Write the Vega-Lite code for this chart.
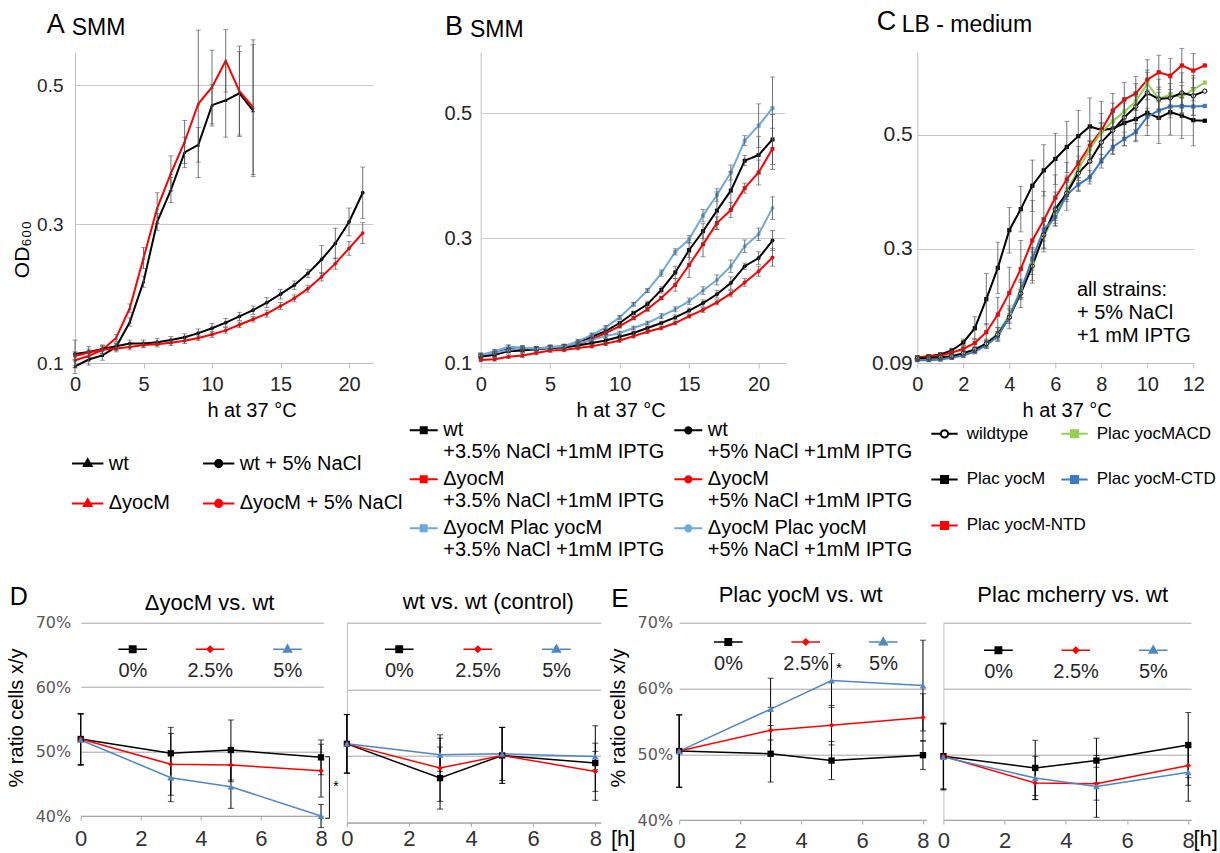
{
"$schema": "https://vega.github.io/schema/vega-lite/v6.json",
"autosize": {"type": "none"},
"padding": {"left": 75, "top": 52, "right": 1145, "bottom": 801},
"background": "#ffffff",
"config": {
  "font": "Liberation Sans",
  "view": {"stroke": null},
  "axis": {"labelFlush": false, "labelOverlap": false, "titleFontWeight": "normal", "labelColor": "#262626", "titleColor": "#000000"},
  "title": {"fontWeight": "normal", "color": "#000000"},
  "legend": {"labelColor": "#000000", "labelLimit": 400}
},
"datasets": {
"A": [
{"s":"wt","h":0,"v":0.095,"e":0.010},{"s":"wt","h":1,"v":0.105,"e":0.008},{"s":"wt","h":2,"v":0.111,"e":0.007},{"s":"wt","h":3,"v":0.123,"e":0.005},{"s":"wt","h":4,"v":0.159,"e":0.006},{"s":"wt","h":5,"v":0.217,"e":0.008},{"s":"wt","h":6,"v":0.303,"e":0.012},{"s":"wt","h":7,"v":0.349,"e":0.018},{"s":"wt","h":8,"v":0.403,"e":0.022},{"s":"wt","h":9,"v":0.414,"e":0.025},{"s":"wt","h":10,"v":0.471,"e":0.030},{"s":"wt","h":11,"v":0.478,"e":0.053},{"s":"wt","h":12,"v":0.488,"e":0.060},{"s":"wt","h":13,"v":0.463,"e":0.095},
{"s":"ΔyocM","h":0,"v":0.104,"e":0.008},{"s":"ΔyocM","h":1,"v":0.110,"e":0.007},{"s":"ΔyocM","h":2,"v":0.119,"e":0.006},{"s":"ΔyocM","h":3,"v":0.136,"e":0.005},{"s":"ΔyocM","h":4,"v":0.179,"e":0.006},{"s":"ΔyocM","h":5,"v":0.251,"e":0.015},{"s":"ΔyocM","h":6,"v":0.323,"e":0.022},{"s":"ΔyocM","h":7,"v":0.373,"e":0.025},{"s":"ΔyocM","h":8,"v":0.418,"e":0.031},{"s":"ΔyocM","h":9,"v":0.473,"e":0.106},{"s":"ΔyocM","h":10,"v":0.497,"e":0.053},{"s":"ΔyocM","h":11,"v":0.535,"e":0.045},{"s":"ΔyocM","h":12,"v":0.491,"e":0.065},{"s":"ΔyocM","h":13,"v":0.468,"e":0.097},
{"s":"wt + 5% NaCl","h":0,"v":0.113,"e":0.020},{"s":"wt + 5% NaCl","h":1,"v":0.116,"e":0.008},{"s":"wt + 5% NaCl","h":2,"v":0.120,"e":0.006},{"s":"wt + 5% NaCl","h":3,"v":0.124,"e":0.005},{"s":"wt + 5% NaCl","h":4,"v":0.128,"e":0.005},{"s":"wt + 5% NaCl","h":5,"v":0.128,"e":0.005},{"s":"wt + 5% NaCl","h":6,"v":0.130,"e":0.005},{"s":"wt + 5% NaCl","h":7,"v":0.133,"e":0.005},{"s":"wt + 5% NaCl","h":8,"v":0.137,"e":0.005},{"s":"wt + 5% NaCl","h":9,"v":0.143,"e":0.006},{"s":"wt + 5% NaCl","h":10,"v":0.150,"e":0.007},{"s":"wt + 5% NaCl","h":11,"v":0.158,"e":0.006},{"s":"wt + 5% NaCl","h":12,"v":0.167,"e":0.006},{"s":"wt + 5% NaCl","h":13,"v":0.176,"e":0.006},{"s":"wt + 5% NaCl","h":14,"v":0.187,"e":0.007},{"s":"wt + 5% NaCl","h":15,"v":0.199,"e":0.007},{"s":"wt + 5% NaCl","h":16,"v":0.212,"e":0.006},{"s":"wt + 5% NaCl","h":17,"v":0.229,"e":0.006},{"s":"wt + 5% NaCl","h":18,"v":0.249,"e":0.020},{"s":"wt + 5% NaCl","h":19,"v":0.272,"e":0.022},{"s":"wt + 5% NaCl","h":20,"v":0.303,"e":0.020},{"s":"wt + 5% NaCl","h":21,"v":0.345,"e":0.037},
{"s":"ΔyocM + 5% NaCl","h":0,"v":0.110,"e":0.006},{"s":"ΔyocM + 5% NaCl","h":1,"v":0.115,"e":0.005},{"s":"ΔyocM + 5% NaCl","h":2,"v":0.119,"e":0.005},{"s":"ΔyocM + 5% NaCl","h":3,"v":0.121,"e":0.005},{"s":"ΔyocM + 5% NaCl","h":4,"v":0.123,"e":0.004},{"s":"ΔyocM + 5% NaCl","h":5,"v":0.126,"e":0.004},{"s":"ΔyocM + 5% NaCl","h":6,"v":0.127,"e":0.004},{"s":"ΔyocM + 5% NaCl","h":7,"v":0.129,"e":0.004},{"s":"ΔyocM + 5% NaCl","h":8,"v":0.132,"e":0.004},{"s":"ΔyocM + 5% NaCl","h":9,"v":0.136,"e":0.004},{"s":"ΔyocM + 5% NaCl","h":10,"v":0.141,"e":0.004},{"s":"ΔyocM + 5% NaCl","h":11,"v":0.147,"e":0.004},{"s":"ΔyocM + 5% NaCl","h":12,"v":0.155,"e":0.004},{"s":"ΔyocM + 5% NaCl","h":13,"v":0.163,"e":0.004},{"s":"ΔyocM + 5% NaCl","h":14,"v":0.171,"e":0.005},{"s":"ΔyocM + 5% NaCl","h":15,"v":0.182,"e":0.005},{"s":"ΔyocM + 5% NaCl","h":16,"v":0.193,"e":0.005},{"s":"ΔyocM + 5% NaCl","h":17,"v":0.207,"e":0.005},{"s":"ΔyocM + 5% NaCl","h":18,"v":0.224,"e":0.006},{"s":"ΔyocM + 5% NaCl","h":19,"v":0.243,"e":0.008},{"s":"ΔyocM + 5% NaCl","h":20,"v":0.265,"e":0.010},{"s":"ΔyocM + 5% NaCl","h":21,"v":0.287,"e":0.015}
],
"B": [
{"s":"wt|+3.5% NaCl +1mM IPTG","h":0,"v":0.111,"e":0.003},{"s":"wt|+3.5% NaCl +1mM IPTG","h":1,"v":0.116,"e":0.003},{"s":"wt|+3.5% NaCl +1mM IPTG","h":2,"v":0.122,"e":0.003},{"s":"wt|+3.5% NaCl +1mM IPTG","h":3,"v":0.123,"e":0.003},{"s":"wt|+3.5% NaCl +1mM IPTG","h":4,"v":0.123,"e":0.003},{"s":"wt|+3.5% NaCl +1mM IPTG","h":5,"v":0.125,"e":0.003},{"s":"wt|+3.5% NaCl +1mM IPTG","h":6,"v":0.127,"e":0.003},{"s":"wt|+3.5% NaCl +1mM IPTG","h":7,"v":0.132,"e":0.003},{"s":"wt|+3.5% NaCl +1mM IPTG","h":8,"v":0.142,"e":0.003},{"s":"wt|+3.5% NaCl +1mM IPTG","h":9,"v":0.151,"e":0.003},{"s":"wt|+3.5% NaCl +1mM IPTG","h":10,"v":0.164,"e":0.003},{"s":"wt|+3.5% NaCl +1mM IPTG","h":11,"v":0.180,"e":0.003},{"s":"wt|+3.5% NaCl +1mM IPTG","h":12,"v":0.194,"e":0.005},{"s":"wt|+3.5% NaCl +1mM IPTG","h":13,"v":0.217,"e":0.005},{"s":"wt|+3.5% NaCl +1mM IPTG","h":14,"v":0.245,"e":0.010},{"s":"wt|+3.5% NaCl +1mM IPTG","h":15,"v":0.281,"e":0.012},{"s":"wt|+3.5% NaCl +1mM IPTG","h":16,"v":0.311,"e":0.012},{"s":"wt|+3.5% NaCl +1mM IPTG","h":17,"v":0.344,"e":0.030},{"s":"wt|+3.5% NaCl +1mM IPTG","h":18,"v":0.376,"e":0.030},{"s":"wt|+3.5% NaCl +1mM IPTG","h":19,"v":0.424,"e":0.008},{"s":"wt|+3.5% NaCl +1mM IPTG","h":20,"v":0.433,"e":0.030},{"s":"wt|+3.5% NaCl +1mM IPTG","h":21,"v":0.458,"e":0.040},
{"s":"ΔyocM|+3.5% NaCl +1mM IPTG","h":0,"v":0.110,"e":0.003},{"s":"ΔyocM|+3.5% NaCl +1mM IPTG","h":1,"v":0.113,"e":0.003},{"s":"ΔyocM|+3.5% NaCl +1mM IPTG","h":2,"v":0.120,"e":0.003},{"s":"ΔyocM|+3.5% NaCl +1mM IPTG","h":3,"v":0.121,"e":0.003},{"s":"ΔyocM|+3.5% NaCl +1mM IPTG","h":4,"v":0.123,"e":0.003},{"s":"ΔyocM|+3.5% NaCl +1mM IPTG","h":5,"v":0.124,"e":0.003},{"s":"ΔyocM|+3.5% NaCl +1mM IPTG","h":6,"v":0.126,"e":0.003},{"s":"ΔyocM|+3.5% NaCl +1mM IPTG","h":7,"v":0.130,"e":0.003},{"s":"ΔyocM|+3.5% NaCl +1mM IPTG","h":8,"v":0.138,"e":0.003},{"s":"ΔyocM|+3.5% NaCl +1mM IPTG","h":9,"v":0.148,"e":0.003},{"s":"ΔyocM|+3.5% NaCl +1mM IPTG","h":10,"v":0.159,"e":0.003},{"s":"ΔyocM|+3.5% NaCl +1mM IPTG","h":11,"v":0.172,"e":0.003},{"s":"ΔyocM|+3.5% NaCl +1mM IPTG","h":12,"v":0.186,"e":0.003},{"s":"ΔyocM|+3.5% NaCl +1mM IPTG","h":13,"v":0.204,"e":0.003},{"s":"ΔyocM|+3.5% NaCl +1mM IPTG","h":14,"v":0.225,"e":0.010},{"s":"ΔyocM|+3.5% NaCl +1mM IPTG","h":15,"v":0.257,"e":0.020},{"s":"ΔyocM|+3.5% NaCl +1mM IPTG","h":16,"v":0.290,"e":0.020},{"s":"ΔyocM|+3.5% NaCl +1mM IPTG","h":17,"v":0.324,"e":0.010},{"s":"ΔyocM|+3.5% NaCl +1mM IPTG","h":18,"v":0.345,"e":0.012},{"s":"ΔyocM|+3.5% NaCl +1mM IPTG","h":19,"v":0.380,"e":0.008},{"s":"ΔyocM|+3.5% NaCl +1mM IPTG","h":20,"v":0.405,"e":0.020},{"s":"ΔyocM|+3.5% NaCl +1mM IPTG","h":21,"v":0.443,"e":0.033},
{"s":"ΔyocM Plac yocM|+3.5% NaCl +1mM IPTG","h":0,"v":0.113,"e":0.003},{"s":"ΔyocM Plac yocM|+3.5% NaCl +1mM IPTG","h":1,"v":0.119,"e":0.003},{"s":"ΔyocM Plac yocM|+3.5% NaCl +1mM IPTG","h":2,"v":0.126,"e":0.003},{"s":"ΔyocM Plac yocM|+3.5% NaCl +1mM IPTG","h":3,"v":0.125,"e":0.003},{"s":"ΔyocM Plac yocM|+3.5% NaCl +1mM IPTG","h":4,"v":0.123,"e":0.003},{"s":"ΔyocM Plac yocM|+3.5% NaCl +1mM IPTG","h":5,"v":0.126,"e":0.003},{"s":"ΔyocM Plac yocM|+3.5% NaCl +1mM IPTG","h":6,"v":0.127,"e":0.003},{"s":"ΔyocM Plac yocM|+3.5% NaCl +1mM IPTG","h":7,"v":0.135,"e":0.003},{"s":"ΔyocM Plac yocM|+3.5% NaCl +1mM IPTG","h":8,"v":0.145,"e":0.003},{"s":"ΔyocM Plac yocM|+3.5% NaCl +1mM IPTG","h":9,"v":0.157,"e":0.003},{"s":"ΔyocM Plac yocM|+3.5% NaCl +1mM IPTG","h":10,"v":0.173,"e":0.003},{"s":"ΔyocM Plac yocM|+3.5% NaCl +1mM IPTG","h":11,"v":0.194,"e":0.003},{"s":"ΔyocM Plac yocM|+3.5% NaCl +1mM IPTG","h":12,"v":0.216,"e":0.003},{"s":"ΔyocM Plac yocM|+3.5% NaCl +1mM IPTG","h":13,"v":0.244,"e":0.005},{"s":"ΔyocM Plac yocM|+3.5% NaCl +1mM IPTG","h":14,"v":0.278,"e":0.005},{"s":"ΔyocM Plac yocM|+3.5% NaCl +1mM IPTG","h":15,"v":0.298,"e":0.006},{"s":"ΔyocM Plac yocM|+3.5% NaCl +1mM IPTG","h":16,"v":0.336,"e":0.010},{"s":"ΔyocM Plac yocM|+3.5% NaCl +1mM IPTG","h":17,"v":0.369,"e":0.010},{"s":"ΔyocM Plac yocM|+3.5% NaCl +1mM IPTG","h":18,"v":0.405,"e":0.012},{"s":"ΔyocM Plac yocM|+3.5% NaCl +1mM IPTG","h":19,"v":0.456,"e":0.008},{"s":"ΔyocM Plac yocM|+3.5% NaCl +1mM IPTG","h":20,"v":0.480,"e":0.035},{"s":"ΔyocM Plac yocM|+3.5% NaCl +1mM IPTG","h":21,"v":0.508,"e":0.050},
{"s":"wt|+5% NaCl +1mM IPTG","h":0,"v":0.111,"e":0.003},{"s":"wt|+5% NaCl +1mM IPTG","h":1,"v":0.113,"e":0.003},{"s":"wt|+5% NaCl +1mM IPTG","h":2,"v":0.119,"e":0.003},{"s":"wt|+5% NaCl +1mM IPTG","h":3,"v":0.120,"e":0.003},{"s":"wt|+5% NaCl +1mM IPTG","h":4,"v":0.122,"e":0.003},{"s":"wt|+5% NaCl +1mM IPTG","h":5,"v":0.124,"e":0.003},{"s":"wt|+5% NaCl +1mM IPTG","h":6,"v":0.125,"e":0.003},{"s":"wt|+5% NaCl +1mM IPTG","h":7,"v":0.128,"e":0.003},{"s":"wt|+5% NaCl +1mM IPTG","h":8,"v":0.132,"e":0.003},{"s":"wt|+5% NaCl +1mM IPTG","h":9,"v":0.136,"e":0.003},{"s":"wt|+5% NaCl +1mM IPTG","h":10,"v":0.142,"e":0.003},{"s":"wt|+5% NaCl +1mM IPTG","h":11,"v":0.148,"e":0.003},{"s":"wt|+5% NaCl +1mM IPTG","h":12,"v":0.156,"e":0.003},{"s":"wt|+5% NaCl +1mM IPTG","h":13,"v":0.164,"e":0.003},{"s":"wt|+5% NaCl +1mM IPTG","h":14,"v":0.173,"e":0.004},{"s":"wt|+5% NaCl +1mM IPTG","h":15,"v":0.184,"e":0.004},{"s":"wt|+5% NaCl +1mM IPTG","h":16,"v":0.196,"e":0.005},{"s":"wt|+5% NaCl +1mM IPTG","h":17,"v":0.210,"e":0.006},{"s":"wt|+5% NaCl +1mM IPTG","h":18,"v":0.228,"e":0.010},{"s":"wt|+5% NaCl +1mM IPTG","h":19,"v":0.255,"e":0.005},{"s":"wt|+5% NaCl +1mM IPTG","h":20,"v":0.268,"e":0.010},{"s":"wt|+5% NaCl +1mM IPTG","h":21,"v":0.296,"e":0.016},
{"s":"ΔyocM|+5% NaCl +1mM IPTG","h":0,"v":0.105,"e":0.003},{"s":"ΔyocM|+5% NaCl +1mM IPTG","h":1,"v":0.106,"e":0.003},{"s":"ΔyocM|+5% NaCl +1mM IPTG","h":2,"v":0.110,"e":0.003},{"s":"ΔyocM|+5% NaCl +1mM IPTG","h":3,"v":0.112,"e":0.003},{"s":"ΔyocM|+5% NaCl +1mM IPTG","h":4,"v":0.116,"e":0.003},{"s":"ΔyocM|+5% NaCl +1mM IPTG","h":5,"v":0.120,"e":0.003},{"s":"ΔyocM|+5% NaCl +1mM IPTG","h":6,"v":0.121,"e":0.003},{"s":"ΔyocM|+5% NaCl +1mM IPTG","h":7,"v":0.124,"e":0.003},{"s":"ΔyocM|+5% NaCl +1mM IPTG","h":8,"v":0.127,"e":0.003},{"s":"ΔyocM|+5% NaCl +1mM IPTG","h":9,"v":0.131,"e":0.003},{"s":"ΔyocM|+5% NaCl +1mM IPTG","h":10,"v":0.136,"e":0.003},{"s":"ΔyocM|+5% NaCl +1mM IPTG","h":11,"v":0.143,"e":0.003},{"s":"ΔyocM|+5% NaCl +1mM IPTG","h":12,"v":0.150,"e":0.003},{"s":"ΔyocM|+5% NaCl +1mM IPTG","h":13,"v":0.156,"e":0.003},{"s":"ΔyocM|+5% NaCl +1mM IPTG","h":14,"v":0.164,"e":0.003},{"s":"ΔyocM|+5% NaCl +1mM IPTG","h":15,"v":0.175,"e":0.003},{"s":"ΔyocM|+5% NaCl +1mM IPTG","h":16,"v":0.185,"e":0.004},{"s":"ΔyocM|+5% NaCl +1mM IPTG","h":17,"v":0.197,"e":0.004},{"s":"ΔyocM|+5% NaCl +1mM IPTG","h":18,"v":0.211,"e":0.005},{"s":"ΔyocM|+5% NaCl +1mM IPTG","h":19,"v":0.229,"e":0.006},{"s":"ΔyocM|+5% NaCl +1mM IPTG","h":20,"v":0.247,"e":0.008},{"s":"ΔyocM|+5% NaCl +1mM IPTG","h":21,"v":0.269,"e":0.014},
{"s":"ΔyocM Plac yocM|+5% NaCl +1mM IPTG","h":0,"v":0.113,"e":0.003},{"s":"ΔyocM Plac yocM|+5% NaCl +1mM IPTG","h":1,"v":0.116,"e":0.003},{"s":"ΔyocM Plac yocM|+5% NaCl +1mM IPTG","h":2,"v":0.121,"e":0.003},{"s":"ΔyocM Plac yocM|+5% NaCl +1mM IPTG","h":3,"v":0.124,"e":0.003},{"s":"ΔyocM Plac yocM|+5% NaCl +1mM IPTG","h":4,"v":0.123,"e":0.003},{"s":"ΔyocM Plac yocM|+5% NaCl +1mM IPTG","h":5,"v":0.125,"e":0.003},{"s":"ΔyocM Plac yocM|+5% NaCl +1mM IPTG","h":6,"v":0.127,"e":0.003},{"s":"ΔyocM Plac yocM|+5% NaCl +1mM IPTG","h":7,"v":0.132,"e":0.003},{"s":"ΔyocM Plac yocM|+5% NaCl +1mM IPTG","h":8,"v":0.137,"e":0.003},{"s":"ΔyocM Plac yocM|+5% NaCl +1mM IPTG","h":9,"v":0.143,"e":0.003},{"s":"ΔyocM Plac yocM|+5% NaCl +1mM IPTG","h":10,"v":0.148,"e":0.003},{"s":"ΔyocM Plac yocM|+5% NaCl +1mM IPTG","h":11,"v":0.156,"e":0.003},{"s":"ΔyocM Plac yocM|+5% NaCl +1mM IPTG","h":12,"v":0.164,"e":0.003},{"s":"ΔyocM Plac yocM|+5% NaCl +1mM IPTG","h":13,"v":0.175,"e":0.004},{"s":"ΔyocM Plac yocM|+5% NaCl +1mM IPTG","h":14,"v":0.186,"e":0.004},{"s":"ΔyocM Plac yocM|+5% NaCl +1mM IPTG","h":15,"v":0.199,"e":0.005},{"s":"ΔyocM Plac yocM|+5% NaCl +1mM IPTG","h":16,"v":0.216,"e":0.006},{"s":"ΔyocM Plac yocM|+5% NaCl +1mM IPTG","h":17,"v":0.233,"e":0.008},{"s":"ΔyocM Plac yocM|+5% NaCl +1mM IPTG","h":18,"v":0.255,"e":0.010},{"s":"ΔyocM Plac yocM|+5% NaCl +1mM IPTG","h":19,"v":0.287,"e":0.010},{"s":"ΔyocM Plac yocM|+5% NaCl +1mM IPTG","h":20,"v":0.306,"e":0.010},{"s":"ΔyocM Plac yocM|+5% NaCl +1mM IPTG","h":21,"v":0.348,"e":0.018}
],
"C": [
{"s":"Plac yocM","h":0,"v":0.109,"e":0.003},{"s":"Plac yocM","h":0.5,"v":0.112,"e":0.003},{"s":"Plac yocM","h":1,"v":0.115,"e":0.003},{"s":"Plac yocM","h":1.5,"v":0.122,"e":0.004},{"s":"Plac yocM","h":2,"v":0.136,"e":0.006},{"s":"Plac yocM","h":2.5,"v":0.161,"e":0.02},{"s":"Plac yocM","h":3,"v":0.212,"e":0.045},{"s":"Plac yocM","h":3.5,"v":0.267,"e":0.045},{"s":"Plac yocM","h":4,"v":0.333,"e":0.04},{"s":"Plac yocM","h":4.5,"v":0.370,"e":0.04},{"s":"Plac yocM","h":5,"v":0.411,"e":0.045},{"s":"Plac yocM","h":5.5,"v":0.438,"e":0.045},{"s":"Plac yocM","h":6,"v":0.458,"e":0.045},{"s":"Plac yocM","h":6.5,"v":0.479,"e":0.045},{"s":"Plac yocM","h":7,"v":0.498,"e":0.045},{"s":"Plac yocM","h":7.5,"v":0.515,"e":0.05},{"s":"Plac yocM","h":8,"v":0.509,"e":0.05},{"s":"Plac yocM","h":8.5,"v":0.511,"e":0.045},{"s":"Plac yocM","h":9,"v":0.521,"e":0.04},{"s":"Plac yocM","h":9.5,"v":0.528,"e":0.04},{"s":"Plac yocM","h":10,"v":0.539,"e":0.04},{"s":"Plac yocM","h":10.5,"v":0.530,"e":0.045},{"s":"Plac yocM","h":11,"v":0.540,"e":0.04},{"s":"Plac yocM","h":11.5,"v":0.534,"e":0.04},{"s":"Plac yocM","h":12,"v":0.526,"e":0.045},{"s":"Plac yocM","h":12.5,"v":0.525,"e":0},
{"s":"Plac yocM-NTD","h":0,"v":0.110,"e":0.003},{"s":"Plac yocM-NTD","h":0.5,"v":0.112,"e":0.003},{"s":"Plac yocM-NTD","h":1,"v":0.113,"e":0.003},{"s":"Plac yocM-NTD","h":1.5,"v":0.118,"e":0.003},{"s":"Plac yocM-NTD","h":2,"v":0.125,"e":0.005},{"s":"Plac yocM-NTD","h":2.5,"v":0.135,"e":0.008},{"s":"Plac yocM-NTD","h":3,"v":0.154,"e":0.015},{"s":"Plac yocM-NTD","h":3.5,"v":0.185,"e":0.03},{"s":"Plac yocM-NTD","h":4,"v":0.223,"e":0.045},{"s":"Plac yocM-NTD","h":4.5,"v":0.265,"e":0.05},{"s":"Plac yocM-NTD","h":5,"v":0.315,"e":0.07},{"s":"Plac yocM-NTD","h":5.5,"v":0.351,"e":0.05},{"s":"Plac yocM-NTD","h":6,"v":0.390,"e":0.04},{"s":"Plac yocM-NTD","h":6.5,"v":0.422,"e":0.03},{"s":"Plac yocM-NTD","h":7,"v":0.450,"e":0.03},{"s":"Plac yocM-NTD","h":7.5,"v":0.481,"e":0.03},{"s":"Plac yocM-NTD","h":8,"v":0.508,"e":0.03},{"s":"Plac yocM-NTD","h":8.5,"v":0.543,"e":0.03},{"s":"Plac yocM-NTD","h":9,"v":0.562,"e":0.03},{"s":"Plac yocM-NTD","h":9.5,"v":0.573,"e":0.03},{"s":"Plac yocM-NTD","h":10,"v":0.597,"e":0.035},{"s":"Plac yocM-NTD","h":10.5,"v":0.610,"e":0.03},{"s":"Plac yocM-NTD","h":11,"v":0.604,"e":0.03},{"s":"Plac yocM-NTD","h":11.5,"v":0.622,"e":0.03},{"s":"Plac yocM-NTD","h":12,"v":0.613,"e":0.03},{"s":"Plac yocM-NTD","h":12.5,"v":0.622,"e":0},
{"s":"Plac yocMACD","h":0,"v":0.106,"e":0.002},{"s":"Plac yocMACD","h":0.5,"v":0.107,"e":0.002},{"s":"Plac yocMACD","h":1,"v":0.108,"e":0.002},{"s":"Plac yocMACD","h":1.5,"v":0.111,"e":0.003},{"s":"Plac yocMACD","h":2,"v":0.116,"e":0.003},{"s":"Plac yocMACD","h":2.5,"v":0.123,"e":0.004},{"s":"Plac yocMACD","h":3,"v":0.134,"e":0.006},{"s":"Plac yocMACD","h":3.5,"v":0.152,"e":0.01},{"s":"Plac yocMACD","h":4,"v":0.184,"e":0.012},{"s":"Plac yocMACD","h":4.5,"v":0.229,"e":0.015},{"s":"Plac yocMACD","h":5,"v":0.275,"e":0.02},{"s":"Plac yocMACD","h":5.5,"v":0.322,"e":0.02},{"s":"Plac yocMACD","h":6,"v":0.360,"e":0.015},{"s":"Plac yocMACD","h":6.5,"v":0.402,"e":0.015},{"s":"Plac yocMACD","h":7,"v":0.440,"e":0.015},{"s":"Plac yocMACD","h":7.5,"v":0.475,"e":0.015},{"s":"Plac yocMACD","h":8,"v":0.505,"e":0.015},{"s":"Plac yocMACD","h":8.5,"v":0.524,"e":0.015},{"s":"Plac yocMACD","h":9,"v":0.541,"e":0.015},{"s":"Plac yocMACD","h":9.5,"v":0.559,"e":0.015},{"s":"Plac yocMACD","h":10,"v":0.590,"e":0.02},{"s":"Plac yocMACD","h":10.5,"v":0.564,"e":0.02},{"s":"Plac yocMACD","h":11,"v":0.570,"e":0.02},{"s":"Plac yocMACD","h":11.5,"v":0.567,"e":0.02},{"s":"Plac yocMACD","h":12,"v":0.580,"e":0.02},{"s":"Plac yocMACD","h":12.5,"v":0.592,"e":0},
{"s":"wildtype","h":0,"v":0.108,"e":0.003},{"s":"wildtype","h":0.5,"v":0.109,"e":0.003},{"s":"wildtype","h":1,"v":0.110,"e":0.003},{"s":"wildtype","h":1.5,"v":0.112,"e":0.003},{"s":"wildtype","h":2,"v":0.117,"e":0.004},{"s":"wildtype","h":2.5,"v":0.124,"e":0.005},{"s":"wildtype","h":3,"v":0.134,"e":0.008},{"s":"wildtype","h":3.5,"v":0.150,"e":0.012},{"s":"wildtype","h":4,"v":0.180,"e":0.02},{"s":"wildtype","h":4.5,"v":0.222,"e":0.025},{"s":"wildtype","h":5,"v":0.270,"e":0.03},{"s":"wildtype","h":5.5,"v":0.325,"e":0.03},{"s":"wildtype","h":6,"v":0.370,"e":0.03},{"s":"wildtype","h":6.5,"v":0.398,"e":0.03},{"s":"wildtype","h":7,"v":0.433,"e":0.03},{"s":"wildtype","h":7.5,"v":0.454,"e":0.035},{"s":"wildtype","h":8,"v":0.487,"e":0.035},{"s":"wildtype","h":8.5,"v":0.508,"e":0.035},{"s":"wildtype","h":9,"v":0.531,"e":0.035},{"s":"wildtype","h":9.5,"v":0.550,"e":0.04},{"s":"wildtype","h":10,"v":0.574,"e":0.04},{"s":"wildtype","h":10.5,"v":0.563,"e":0.035},{"s":"wildtype","h":11,"v":0.565,"e":0.035},{"s":"wildtype","h":11.5,"v":0.574,"e":0.035},{"s":"wildtype","h":12,"v":0.569,"e":0.035},{"s":"wildtype","h":12.5,"v":0.577,"e":0},
{"s":"Plac yocM-CTD","h":0,"v":0.105,"e":0.002},{"s":"Plac yocM-CTD","h":0.5,"v":0.105,"e":0.002},{"s":"Plac yocM-CTD","h":1,"v":0.106,"e":0.002},{"s":"Plac yocM-CTD","h":1.5,"v":0.109,"e":0.003},{"s":"Plac yocM-CTD","h":2,"v":0.113,"e":0.003},{"s":"Plac yocM-CTD","h":2.5,"v":0.120,"e":0.004},{"s":"Plac yocM-CTD","h":3,"v":0.131,"e":0.006},{"s":"Plac yocM-CTD","h":3.5,"v":0.147,"e":0.008},{"s":"Plac yocM-CTD","h":4,"v":0.181,"e":0.012},{"s":"Plac yocM-CTD","h":4.5,"v":0.226,"e":0.015},{"s":"Plac yocM-CTD","h":5,"v":0.283,"e":0.02},{"s":"Plac yocM-CTD","h":5.5,"v":0.334,"e":0.02},{"s":"Plac yocM-CTD","h":6,"v":0.356,"e":0.015},{"s":"Plac yocM-CTD","h":6.5,"v":0.395,"e":0.012},{"s":"Plac yocM-CTD","h":7,"v":0.413,"e":0.012},{"s":"Plac yocM-CTD","h":7.5,"v":0.426,"e":0.012},{"s":"Plac yocM-CTD","h":8,"v":0.454,"e":0.012},{"s":"Plac yocM-CTD","h":8.5,"v":0.479,"e":0.012},{"s":"Plac yocM-CTD","h":9,"v":0.493,"e":0.012},{"s":"Plac yocM-CTD","h":9.5,"v":0.505,"e":0.015},{"s":"Plac yocM-CTD","h":10,"v":0.532,"e":0.015},{"s":"Plac yocM-CTD","h":10.5,"v":0.543,"e":0.015},{"s":"Plac yocM-CTD","h":11,"v":0.550,"e":0.015},{"s":"Plac yocM-CTD","h":11.5,"v":0.551,"e":0.015},{"s":"Plac yocM-CTD","h":12,"v":0.550,"e":0.015},{"s":"Plac yocM-CTD","h":12.5,"v":0.551,"e":0}
],
"D1": [
{"s":"0%","h":0,"v":51.95,"e":3.96},{"s":"0%","h":3,"v":49.73,"e":4.03},{"s":"0%","h":5,"v":50.24,"e":4.66},{"s":"0%","h":8,"v":49.1,"e":2.7},
{"s":"2.5%","h":0,"v":51.95,"e":3.96},{"s":"2.5%","h":3,"v":48.02,"e":4.8},{"s":"2.5%","h":5,"v":47.92,"e":2.6},{"s":"2.5%","h":8,"v":47.04,"e":4.1},
{"s":"5%","h":0,"v":51.8,"e":3.96},{"s":"5%","h":3,"v":45.95,"e":3.73},{"s":"5%","h":5,"v":44.55,"e":3.36},{"s":"5%","h":8,"v":40.0,"e":1.8}
],
"D2": [
{"s":"0%","h":0,"v":51.8,"e":4.4},{"s":"0%","h":3,"v":46.66,"e":4.66},{"s":"0%","h":5,"v":50.06,"e":4.2},{"s":"0%","h":8,"v":48.92,"e":5.6},
{"s":"2.5%","h":0,"v":51.8,"e":4.4},{"s":"2.5%","h":3,"v":48.16,"e":5.0},{"s":"2.5%","h":5,"v":50.06,"e":4.2},{"s":"2.5%","h":8,"v":47.66,"e":3.0},
{"s":"5%","h":0,"v":51.8,"e":4.4},{"s":"5%","h":3,"v":50.16,"e":2.5},{"s":"5%","h":5,"v":50.3,"e":4.0},{"s":"5%","h":8,"v":49.9,"e":2.0}
],
"E1": [
{"s":"0%","h":0,"v":50.48,"e":5.5},{"s":"0%","h":3,"v":50.07,"e":4.3},{"s":"0%","h":5,"v":49.04,"e":2.9},{"s":"0%","h":8,"v":49.86,"e":2.2},
{"s":"2.5%","h":0,"v":50.48,"e":5.5},{"s":"2.5%","h":3,"v":53.64,"e":3.5},{"s":"2.5%","h":5,"v":54.41,"e":3.0},{"s":"2.5%","h":8,"v":55.59,"e":3.6},
{"s":"5%","h":0,"v":50.48,"e":5.5},{"s":"5%","h":3,"v":56.86,"e":4.7},{"s":"5%","h":5,"v":61.2,"e":4.1},{"s":"5%","h":8,"v":60.44,"e":6.9}
],
"E2": [
{"s":"0%","h":0,"v":49.71,"e":5.0},{"s":"0%","h":3,"v":47.92,"e":4.2},{"s":"0%","h":5,"v":49.04,"e":3.4},{"s":"0%","h":8,"v":51.4,"e":4.95},
{"s":"2.5%","h":0,"v":49.71,"e":5.0},{"s":"2.5%","h":3,"v":45.62,"e":2.5},{"s":"2.5%","h":5,"v":45.52,"e":2.5},{"s":"2.5%","h":8,"v":48.28,"e":3.0},
{"s":"5%","h":0,"v":49.56,"e":5.0},{"s":"5%","h":3,"v":46.39,"e":3.3},{"s":"5%","h":5,"v":45.11,"e":4.7},{"s":"5%","h":8,"v":47.26,"e":4.4}
]
},
"spacing": 570.7,
"bounds": "flush",
"resolve": {"scale": {"color": "independent", "shape": "independent", "fill": "independent", "stroke": "independent"}},
"vconcat": [
{
 "spacing": 842.3,
 "bounds": "flush",
 "resolve": {"scale": {"color": "independent", "shape": "independent", "fill": "independent", "stroke": "independent"}},
 "hconcat": [
  {
   "spacing": 405.7,
   "bounds": "flush",
   "resolve": {"scale": {"color": "independent", "shape": "independent", "fill": "independent", "stroke": "independent"}},
   "hconcat": [
    {
     "bounds": "flush",
     "title": {"text": "A", "fontSize": 27, "anchor": "start", "frame": "group", "dx": -28.3, "offset": -22},
     "resolve": {"scale": {"color": "independent", "shape": "independent", "fill": "independent", "stroke": "independent"}},
     "hconcat": [
      {
       "width": 298, "height": 311,
       "data": {"name": "A"},
       "title": {"text": "SMM", "fontSize": 23, "anchor": "start", "frame": "group", "dx": -3.3, "offset": -11},
       "resolve": {"scale": {"shape": "independent", "fill": "independent", "stroke": "independent"}},
       "encoding": {
        "x": {"field": "h", "type": "quantitative", "scale": {"domain": [0, 21.75], "nice": false, "zero": false},
              "axis": {"values": [0,5,10,15,20], "title": "h at 37 °C", "titleX": 176.5, "titleY": 37, "titleAlign": "center", "titleBaseline": "top", "titleFontSize": 20, "labelFontSize": 20, "labelPadding": 6, "grid": false, "ticks": true, "tickSize": 5, "tickColor": "#bfbfbf", "domainColor": "#bfbfbf"}},
        "y": {"field": "v", "type": "quantitative", "scale": {"domain": [0.1, 0.5475], "nice": false, "zero": false},
              "axis": {"values": [0.1,0.3,0.5], "format": ".1f", "title": "OD₆₀₀", "titleX": -53, "titleY": 197, "titleAngle": -90, "titleAlign": "center", "titleBaseline": "middle", "titleFontSize": 21, "labelFontSize": 19, "labelPadding": 12, "grid": true, "gridColor": "#c8c8c8", "ticks": false, "domainColor": "#bfbfbf"}}
       },
       "layer": [
        {"mark": {"type": "line", "strokeWidth": 2}, "encoding": {"color": {"field": "s", "type": "nominal", "scale": {"domain": ["wt","wt + 5% NaCl","ΔyocM","ΔyocM + 5% NaCl"], "range": ["#000000","#000000","#ff0000","#ff0000"]}, "legend": null}}},
        {"transform": [{"filter": {"field": "s", "oneOf": ["wt","ΔyocM"]}}], "mark": {"type": "point", "shape": "triangle-up", "filled": true, "size": 14, "opacity": 1}, "encoding": {"color": {"field": "s", "type": "nominal", "scale": {"domain": ["wt","wt + 5% NaCl","ΔyocM","ΔyocM + 5% NaCl"], "range": ["#000000","#000000","#ff0000","#ff0000"]}, "legend": null}}},
        {"transform": [{"filter": {"field": "s", "oneOf": ["wt + 5% NaCl","ΔyocM + 5% NaCl"]}}], "mark": {"type": "point", "shape": "circle", "filled": true, "size": 14, "opacity": 1}, "encoding": {"color": {"field": "s", "type": "nominal", "scale": {"domain": ["wt","wt + 5% NaCl","ΔyocM","ΔyocM + 5% NaCl"], "range": ["#000000","#000000","#ff0000","#ff0000"]}, "legend": null}}},
        {"transform": [{"filter": "datum.e > 0"}], "mark": {"type": "errorbar", "color": "#4d4d4d", "thickness": 0.8, "ticks": {"size": 5}}, "encoding": {"yError": {"field": "e"}}},
        {"transform": [{"filter": "false"}], "mark": {"type": "point", "filled": true},
         "encoding": {
          "shape": {"field": "s", "type": "nominal", "scale": {"domain": ["wt","ΔyocM","wt + 5% NaCl","ΔyocM + 5% NaCl"], "range": ["M-1,-1M1,1M-1,0H-0.2M0.2,0H1M0,-0.27L0.245,0.16L-0.245,0.16Z","M-1,-1M1,1M-1,0H-0.2M0.2,0H1M0,-0.27L0.245,0.16L-0.245,0.16Z","M-1,-1M1,1M-1,0H-0.23M0.23,0H1M-0.23,0A0.23,0.23 0 1,0 0.23,0A0.23,0.23 0 1,0 -0.23,0Z","M-1,-1M1,1M-1,0H-0.23M0.23,0H1M-0.23,0A0.23,0.23 0 1,0 0.23,0A0.23,0.23 0 1,0 -0.23,0Z"]},
                    "legend": {"orient": "none", "legendX": -4.3, "legendY": 394.4, "title": null, "columns": 2, "symbolSize": 980, "symbolStrokeWidth": 2, "symbolOpacity": 1, "labelFontSize": 20, "labelOffset": 4, "labelBaseline": "middle", "rowPadding": 0, "columnPadding": 28, "padding": 0, "gridAlign": "each"}},
          "fill": {"field": "s", "type": "nominal", "scale": {"domain": ["wt","ΔyocM","wt + 5% NaCl","ΔyocM + 5% NaCl"], "range": ["#000000","#ff0000","#000000","#ff0000"]},
                    "legend": {"orient": "none", "legendX": -4.3, "legendY": 394.4, "title": null, "columns": 2, "symbolSize": 980, "symbolStrokeWidth": 2, "symbolOpacity": 1, "labelFontSize": 20, "labelOffset": 4, "labelBaseline": "middle", "rowPadding": 0, "columnPadding": 28, "padding": 0, "gridAlign": "each"}},
          "stroke": {"field": "s", "type": "nominal", "scale": {"domain": ["wt","ΔyocM","wt + 5% NaCl","ΔyocM + 5% NaCl"], "range": ["#000000","#ff0000","#000000","#ff0000"]},
                    "legend": {"orient": "none", "legendX": -4.3, "legendY": 394.4, "title": null, "columns": 2, "symbolSize": 980, "symbolStrokeWidth": 2, "symbolOpacity": 1, "labelFontSize": 20, "labelOffset": 4, "labelBaseline": "middle", "rowPadding": 0, "columnPadding": 28, "padding": 0, "gridAlign": "each"}}
         }}
       ]
      }
     ]
    },
    {
     "bounds": "flush",
     "title": {"text": "B", "fontSize": 27, "anchor": "start", "frame": "group", "dx": -35.7, "offset": -22},
     "resolve": {"scale": {"color": "independent", "shape": "independent", "fill": "independent", "stroke": "independent"}},
     "hconcat": [
      {
       "width": 304.3, "height": 311,
       "data": {"name": "B"},
       "title": {"text": "SMM", "fontSize": 23, "anchor": "start", "frame": "group", "dx": -10.7, "offset": 10.4},
       "resolve": {"scale": {"shape": "independent", "fill": "independent", "stroke": "independent"}},
       "encoding": {
        "x": {"field": "h", "type": "quantitative", "scale": {"domain": [0, 21.9], "nice": false, "zero": false},
              "axis": {"values": [0,5,10,15,20], "title": "h at 37 °C", "titleX": 140, "titleY": 37, "titleAlign": "center", "titleBaseline": "top", "titleFontSize": 20, "labelFontSize": 20, "labelPadding": 6, "grid": false, "ticks": true, "tickSize": 5, "tickColor": "#bfbfbf", "domainColor": "#bfbfbf"}},
        "y": {"field": "v", "type": "quantitative", "scale": {"domain": [0.1, 0.598], "nice": false, "zero": false},
              "axis": {"values": [0.1,0.3,0.5], "format": ".1f", "title": null, "labelFontSize": 20, "labelPadding": 9, "grid": true, "gridColor": "#c8c8c8", "ticks": false, "domainColor": "#bfbfbf"}}
       },
       "layer": [
        {"mark": {"type": "line", "strokeWidth": 2}, "encoding": {"color": {"field": "s", "type": "nominal", "scale": {"domain": ["wt|+3.5% NaCl +1mM IPTG","wt|+5% NaCl +1mM IPTG","ΔyocM|+3.5% NaCl +1mM IPTG","ΔyocM|+5% NaCl +1mM IPTG","ΔyocM Plac yocM|+3.5% NaCl +1mM IPTG","ΔyocM Plac yocM|+5% NaCl +1mM IPTG"], "range": ["#000000","#000000","#ff0000","#ff0000","#6fa8dc","#6fa8dc"]}, "legend": null}}},
        {"transform": [{"filter": {"field": "s", "oneOf": ["wt|+3.5% NaCl +1mM IPTG","ΔyocM|+3.5% NaCl +1mM IPTG","ΔyocM Plac yocM|+3.5% NaCl +1mM IPTG"]}}], "mark": {"type": "point", "shape": "square", "filled": true, "size": 16, "opacity": 1}, "encoding": {"color": {"field": "s", "type": "nominal", "scale": {"domain": ["wt|+3.5% NaCl +1mM IPTG","wt|+5% NaCl +1mM IPTG","ΔyocM|+3.5% NaCl +1mM IPTG","ΔyocM|+5% NaCl +1mM IPTG","ΔyocM Plac yocM|+3.5% NaCl +1mM IPTG","ΔyocM Plac yocM|+5% NaCl +1mM IPTG"], "range": ["#000000","#000000","#ff0000","#ff0000","#6fa8dc","#6fa8dc"]}, "legend": null}}},
        {"transform": [{"filter": {"field": "s", "oneOf": ["wt|+5% NaCl +1mM IPTG","ΔyocM|+5% NaCl +1mM IPTG","ΔyocM Plac yocM|+5% NaCl +1mM IPTG"]}}], "mark": {"type": "point", "shape": "circle", "filled": true, "size": 16, "opacity": 1}, "encoding": {"color": {"field": "s", "type": "nominal", "scale": {"domain": ["wt|+3.5% NaCl +1mM IPTG","wt|+5% NaCl +1mM IPTG","ΔyocM|+3.5% NaCl +1mM IPTG","ΔyocM|+5% NaCl +1mM IPTG","ΔyocM Plac yocM|+3.5% NaCl +1mM IPTG","ΔyocM Plac yocM|+5% NaCl +1mM IPTG"], "range": ["#000000","#000000","#ff0000","#ff0000","#6fa8dc","#6fa8dc"]}, "legend": null}}},
        {"transform": [{"filter": "datum.e > 0"}], "mark": {"type": "errorbar", "color": "#4d4d4d", "thickness": 0.8, "ticks": {"size": 5}}, "encoding": {"yError": {"field": "e"}}},
        {"transform": [{"filter": "false"}], "mark": {"type": "point", "filled": true},
         "encoding": {
          "shape": {"field": "s", "type": "nominal", "scale": {"domain": ["wt|+3.5% NaCl +1mM IPTG","ΔyocM|+3.5% NaCl +1mM IPTG","ΔyocM Plac yocM|+3.5% NaCl +1mM IPTG","wt|+5% NaCl +1mM IPTG","ΔyocM|+5% NaCl +1mM IPTG","ΔyocM Plac yocM|+5% NaCl +1mM IPTG"], "range": ["M-1,0M1,0M-1,0H-0.214M0.214,0H1M-0.214,-0.214H0.214V0.214H-0.214Z","M-1,0M1,0M-1,0H-0.214M0.214,0H1M-0.214,-0.214H0.214V0.214H-0.214Z","M-1,0M1,0M-1,0H-0.214M0.214,0H1M-0.214,-0.214H0.214V0.214H-0.214Z","M-1,0M1,0M-1,0H-0.22M0.22,0H1M-0.22,0A0.22,0.22 0 1,0 0.22,0A0.22,0.22 0 1,0 -0.22,0Z","M-1,0M1,0M-1,0H-0.22M0.22,0H1M-0.22,0A0.22,0.22 0 1,0 0.22,0A0.22,0.22 0 1,0 -0.22,0Z","M-1,0M1,0M-1,0H-0.22M0.22,0H1M-0.22,0A0.22,0.22 0 1,0 0.22,0A0.22,0.22 0 1,0 -0.22,0Z"]},
                    "legend": {"orient": "none", "legendX": -72, "legendY": 363.3, "title": null, "columns": 2, "symbolSize": 784, "symbolStrokeWidth": 2, "symbolOpacity": 1, "labelFontSize": 20, "labelOffset": 4.5, "labelBaseline": "middle", "labelExpr": "split(datum.label, '|')", "rowPadding": 2, "columnPadding": 5.6, "padding": 0, "gridAlign": "each"}},
          "fill": {"field": "s", "type": "nominal", "scale": {"domain": ["wt|+3.5% NaCl +1mM IPTG","ΔyocM|+3.5% NaCl +1mM IPTG","ΔyocM Plac yocM|+3.5% NaCl +1mM IPTG","wt|+5% NaCl +1mM IPTG","ΔyocM|+5% NaCl +1mM IPTG","ΔyocM Plac yocM|+5% NaCl +1mM IPTG"], "range": ["#000000","#ff0000","#6fa8dc","#000000","#ff0000","#6fa8dc"]},
                    "legend": {"orient": "none", "legendX": -72, "legendY": 363.3, "title": null, "columns": 2, "symbolSize": 784, "symbolStrokeWidth": 2, "symbolOpacity": 1, "labelFontSize": 20, "labelOffset": 4.5, "labelBaseline": "middle", "labelExpr": "split(datum.label, '|')", "rowPadding": 2, "columnPadding": 5.6, "padding": 0, "gridAlign": "each"}},
          "stroke": {"field": "s", "type": "nominal", "scale": {"domain": ["wt|+3.5% NaCl +1mM IPTG","ΔyocM|+3.5% NaCl +1mM IPTG","ΔyocM Plac yocM|+3.5% NaCl +1mM IPTG","wt|+5% NaCl +1mM IPTG","ΔyocM|+5% NaCl +1mM IPTG","ΔyocM Plac yocM|+5% NaCl +1mM IPTG"], "range": ["#000000","#ff0000","#6fa8dc","#000000","#ff0000","#6fa8dc"]},
                    "legend": {"orient": "none", "legendX": -72, "legendY": 363.3, "title": null, "columns": 2, "symbolSize": 784, "symbolStrokeWidth": 2, "symbolOpacity": 1, "labelFontSize": 20, "labelOffset": 4.5, "labelBaseline": "middle", "labelExpr": "split(datum.label, '|')", "rowPadding": 2, "columnPadding": 5.6, "padding": 0, "gridAlign": "each"}}
         }}
       ]
      }
     ]
    }
   ]
  },
  {
   "bounds": "flush",
   "title": {"text": "C", "fontSize": 27, "anchor": "start", "frame": "group", "dx": -40.6, "offset": -22},
   "resolve": {"scale": {"color": "independent", "shape": "independent", "fill": "independent", "stroke": "independent"}},
   "hconcat": [
    {
     "width": 276, "height": 311,
     "data": {"name": "C"},
     "title": {"text": "LB - medium", "fontSize": 23, "anchor": "start", "frame": "group", "dx": -15.6, "offset": 10.7},
     "resolve": {"scale": {"shape": "independent", "fill": "independent", "stroke": "independent"}},
     "encoding": {
      "x": {"field": "h", "type": "quantitative", "scale": {"domain": [0, 12], "nice": false, "zero": false},
            "axis": {"values": [0,2,4,6,8,10,12], "title": "h at 37 °C", "titleX": 149.4, "titleY": 37, "titleAlign": "center", "titleBaseline": "top", "titleFontSize": 20, "labelFontSize": 20, "labelPadding": 6, "grid": false, "ticks": true, "tickSize": 5, "tickColor": "#bfbfbf", "domainColor": "#bfbfbf"}},
      "y": {"field": "v", "type": "quantitative", "scale": {"domain": [0.1, 0.6456], "nice": false, "zero": false},
            "axis": {"values": [0.1,0.3,0.5], "labelExpr": "datum.value < 0.15 ? '0.09' : format(datum.value, '.1f')", "title": null, "labelFontSize": 21, "labelPadding": 5, "grid": true, "gridColor": "#c8c8c8", "ticks": false, "domainColor": "#bfbfbf"}}
     },
     "layer": [
      {"mark": {"type": "line", "strokeWidth": 2}, "encoding": {"color": {"field": "s", "type": "nominal", "scale": {"domain": ["wildtype","Plac yocMACD","Plac yocM","Plac yocM-CTD","Plac yocM-NTD"], "range": ["#000000","#92d050","#000000","#3a7ac8","#ff0000"]}, "legend": null}}},
      {"transform": [{"filter": "datum.s != 'wildtype'"}], "mark": {"type": "point", "shape": "square", "filled": true, "size": 18, "opacity": 1}, "encoding": {"color": {"field": "s", "type": "nominal", "scale": {"domain": ["wildtype","Plac yocMACD","Plac yocM","Plac yocM-CTD","Plac yocM-NTD"], "range": ["#000000","#92d050","#000000","#3a7ac8","#ff0000"]}, "legend": null}}},
      {"transform": [{"filter": "datum.s == 'wildtype'"}], "mark": {"type": "point", "shape": "circle", "filled": false, "fill": "#ffffff", "strokeWidth": 1, "size": 18, "opacity": 1}, "encoding": {"color": {"field": "s", "type": "nominal", "scale": {"domain": ["wildtype","Plac yocMACD","Plac yocM","Plac yocM-CTD","Plac yocM-NTD"], "range": ["#000000","#92d050","#000000","#3a7ac8","#ff0000"]}, "legend": null}}},
      {"transform": [{"filter": "datum.e > 0"}], "mark": {"type": "errorbar", "color": "#4d4d4d", "thickness": 0.8, "ticks": {"size": 5}}, "encoding": {"yError": {"field": "e"}}},
      {"transform": [{"filter": "false"}], "mark": {"type": "point", "filled": true},
       "encoding": {
        "shape": {"field": "s", "type": "nominal", "scale": {"domain": ["wildtype","Plac yocM","Plac yocMACD","Plac yocM-CTD"], "range": ["M-1,-1M1,1M-1,0H-0.274M0.274,0H1M-0.274,0A0.274,0.274 0 1,0 0.274,0A0.274,0.274 0 1,0 -0.274,0Z","M-1,-1M1,1M-1,0H-0.266M0.266,0H1M-0.266,-0.266H0.266V0.266H-0.266Z","M-1,-1M1,1M-1,0H-0.266M0.266,0H1M-0.266,-0.266H0.266V0.266H-0.266Z","M-1,-1M1,1M-1,0H-0.266M0.266,0H1M-0.266,-0.266H0.266V0.266H-0.266Z"]},
                  "legend": {"orient": "none", "legendX": 12.7, "legendY": 367.2, "title": null, "columns": 2, "symbolSize": 692, "symbolStrokeWidth": 2, "symbolOpacity": 1, "labelFontSize": 17, "labelOffset": 7.7, "labelBaseline": "middle", "rowPadding": 10.7, "columnPadding": 11, "padding": 0, "gridAlign": "each"}},
        "fill": {"field": "s", "type": "nominal", "scale": {"domain": ["wildtype","Plac yocM","Plac yocMACD","Plac yocM-CTD"], "range": ["#ffffff","#000000","#92d050","#3a7ac8"]},
                  "legend": {"orient": "none", "legendX": 12.7, "legendY": 367.2, "title": null, "columns": 2, "symbolSize": 692, "symbolStrokeWidth": 2, "symbolOpacity": 1, "labelFontSize": 17, "labelOffset": 7.7, "labelBaseline": "middle", "rowPadding": 10.7, "columnPadding": 11, "padding": 0, "gridAlign": "each"}},
        "stroke": {"field": "s", "type": "nominal", "scale": {"domain": ["wildtype","Plac yocM","Plac yocMACD","Plac yocM-CTD"], "range": ["#000000","#000000","#92d050","#3a7ac8"]},
                  "legend": {"orient": "none", "legendX": 12.7, "legendY": 367.2, "title": null, "columns": 2, "symbolSize": 692, "symbolStrokeWidth": 2, "symbolOpacity": 1, "labelFontSize": 17, "labelOffset": 7.7, "labelBaseline": "middle", "rowPadding": 10.7, "columnPadding": 11, "padding": 0, "gridAlign": "each"}}
       }},
      {"transform": [{"filter": "false"}], "mark": {"type": "point", "filled": true},
       "encoding": {
        "shape": {"field": "s", "type": "nominal", "scale": {"domain": ["Plac yocM-NTD"], "range": ["M-1,-1M1,1M-1,0H-0.266M0.266,0H1M-0.266,-0.266H0.266V0.266H-0.266Z"]},
                  "legend": {"orient": "none", "legendX": 12.7, "legendY": 458.9, "title": null, "symbolSize": 692, "symbolStrokeWidth": 2, "symbolOpacity": 1, "labelFontSize": 17, "labelOffset": 7.7, "labelBaseline": "middle", "padding": 0}},
        "fill": {"field": "s", "type": "nominal", "scale": {"domain": ["Plac yocM-NTD"], "range": ["#ff0000"]},
                  "legend": {"orient": "none", "legendX": 12.7, "legendY": 458.9, "title": null, "symbolSize": 692, "symbolStrokeWidth": 2, "symbolOpacity": 1, "labelFontSize": 17, "labelOffset": 7.7, "labelBaseline": "middle", "padding": 0}},
        "stroke": {"field": "s", "type": "nominal", "scale": {"domain": ["Plac yocM-NTD"], "range": ["#ff0000"]},
                  "legend": {"orient": "none", "legendX": 12.7, "legendY": 458.9, "title": null, "symbolSize": 692, "symbolStrokeWidth": 2, "symbolOpacity": 1, "labelFontSize": 17, "labelOffset": 7.7, "labelBaseline": "middle", "padding": 0}}
       }},
      {"transform": [{"filter": "datum.s == 'wildtype' && datum.h == 0"}], "mark": {"type": "text", "text": ["all strains:", " + 5% NaCl", "+1 mM IPTG"], "align": "left", "baseline": "top", "fontSize": 20, "lineHeight": 23, "color": "#000000"}, "encoding": {"x": {"datum": 6.94}, "y": {"datum": 0.246}}}
     ]
    }
   ]
  }
 ]
},
{
 "spacing": 604.2,
 "bounds": "flush",
 "resolve": {"scale": {"color": "independent", "shape": "independent", "fill": "independent", "stroke": "independent"}},
 "hconcat": [
  {
   "spacing": 4.7,
   "bounds": "flush",
   "resolve": {"scale": {"color": "independent", "shape": "independent", "fill": "independent", "stroke": "independent"}},
   "hconcat": [
    {"width": 1, "height": 1, "data": {"values": []}, "mark": {"type": "point", "opacity": 0}, "encoding": {}},
    {
     "spacing": 23.2,
     "bounds": "flush",
     "title": {"text": "D", "fontSize": 25, "anchor": "start", "frame": "group", "dx": -71, "offset": -19},
     "resolve": {"scale": {"color": "independent", "shape": "independent", "fill": "independent", "stroke": "independent"}},
     "hconcat": [
      {
       "width": 242.6, "height": 193.3,
       "data": {"name": "D1"},
       "title": {"text": "ΔyocM vs. wt", "fontSize": 22, "anchor": "middle", "frame": "group", "dx": 7.6, "offset": -0.2},
       "resolve": {"scale": {"shape": "independent", "fill": "independent", "stroke": "independent"}},
       "encoding": {
        "x": {"field": "h", "type": "quantitative", "scale": {"domain": [0, 8.076], "nice": false, "zero": false},
              "axis": {"values": [0,2,4,6,8], "title": null, "labelFontSize": 22, "labelPadding": 8.5, "ticks": true, "tickSize": 4, "tickColor": "#a6a6a6", "domainColor": "#a6a6a6", "grid": false, "labelColor": "#333333"}},
        "y": {"field": "v", "type": "quantitative", "scale": {"domain": [40, 70], "nice": false, "zero": false},
              "axis": {"values": [40,50,60,70], "labelExpr": "datum.value + '%'", "labelFont": "DejaVu Sans", "labelFontSize": 16, "labelColor": "#595959", "labelPadding": 10, "grid": true, "gridColor": "#a6a6a6", "domain": false, "ticks": false, "title": "% ratio cells x/y", "titleX": -64, "titleY": 94.8, "titleAngle": -90, "titleAlign": "center", "titleBaseline": "middle", "titleFontSize": 20}}
       },
       "layer": [
        {"mark": {"type": "line", "strokeWidth": 1.5}, "encoding": {"color": {"field": "s", "type": "nominal", "scale": {"domain": ["0%","2.5%","5%"], "range": ["#000000","#ff0000","#4f86c6"]}, "legend": null}}},
        {"mark": {"type": "errorbar", "color": "#000000", "thickness": 1, "ticks": {"size": 6}}, "encoding": {"yError": {"field": "e"}}},
        {"transform": [{"filter": "datum.s == '0%'"}], "mark": {"type": "point", "shape": "square", "filled": true, "size": 40, "opacity": 1}, "encoding": {"color": {"field": "s", "type": "nominal", "scale": {"domain": ["0%","2.5%","5%"], "range": ["#000000","#ff0000","#4f86c6"]}, "legend": null}}},
        {"transform": [{"filter": "datum.s == '2.5%'"}], "mark": {"type": "point", "shape": "diamond", "filled": true, "size": 30, "opacity": 1}, "encoding": {"color": {"field": "s", "type": "nominal", "scale": {"domain": ["0%","2.5%","5%"], "range": ["#000000","#ff0000","#4f86c6"]}, "legend": null}}},
        {"transform": [{"filter": "datum.s == '5%'"}], "mark": {"type": "point", "shape": "triangle-up", "filled": true, "size": 45, "opacity": 1}, "encoding": {"color": {"field": "s", "type": "nominal", "scale": {"domain": ["0%","2.5%","5%"], "range": ["#000000","#ff0000","#4f86c6"]}, "legend": null}}},
        {"transform": [{"filter": "false"}], "mark": {"type": "point", "filled": true},
         "encoding": {
          "shape": {"field": "s", "type": "nominal", "scale": {"domain": ["0%","2.5%","5%"], "range": ["M-1,-1M1,1M-0.598,-0.504H-0.133M0.133,-0.504H0.598M-0.133,-0.637H0.133V-0.371H-0.133Z","M-1,-1M1,1M-0.598,-0.504H-0.125M0.125,-0.504H0.598M0,-0.629L0.125,-0.504L0,-0.379L-0.125,-0.504Z","M-1,-1M1,1M-0.598,-0.504H-0.15M0.15,-0.504H0.598M0,-0.68L0.167,-0.39L-0.167,-0.39Z"]},
                    "legend": {"orient": "none", "legendX": 27, "legendY": 13.6, "title": null, "direction": "horizontal", "symbolSize": 2304, "symbolStrokeWidth": 1.5, "symbolOpacity": 1, "labelFontSize": 20, "labelAlign": "center", "labelOffset": -24.75, "labelBaseline": "top", "labelColor": "#262626", "columnPadding": 23.4, "padding": 0}},
          "fill": {"field": "s", "type": "nominal", "scale": {"domain": ["0%","2.5%","5%"], "range": ["#000000","#ff0000","#4f86c6"]},
                    "legend": {"orient": "none", "legendX": 27, "legendY": 13.6, "title": null, "direction": "horizontal", "symbolSize": 2304, "symbolStrokeWidth": 1.5, "symbolOpacity": 1, "labelFontSize": 20, "labelAlign": "center", "labelOffset": -24.75, "labelBaseline": "top", "labelColor": "#262626", "columnPadding": 23.4, "padding": 0}},
          "stroke": {"field": "s", "type": "nominal", "scale": {"domain": ["0%","2.5%","5%"], "range": ["#000000","#ff0000","#4f86c6"]},
                    "legend": {"orient": "none", "legendX": 27, "legendY": 13.6, "title": null, "direction": "horizontal", "symbolSize": 2304, "symbolStrokeWidth": 1.5, "symbolOpacity": 1, "labelFontSize": 20, "labelAlign": "center", "labelOffset": -24.75, "labelBaseline": "top", "labelColor": "#262626", "columnPadding": 23.4, "padding": 0}}
         }},
        {"transform": [{"filter": "datum.s == '0%' && datum.h == 8"}], "mark": {"type": "rule", "color": "#000000", "strokeWidth": 1}, "encoding": {"x": {"datum": 8.28}, "y": {"datum": 39.65}, "y2": {"datum": 49.2}}},
        {"transform": [{"filter": "datum.s == '0%' && datum.h == 8"}], "mark": {"type": "rule", "color": "#000000", "strokeWidth": 1}, "encoding": {"x": {"datum": 8.14}, "x2": {"datum": 8.28}, "y": {"datum": 49.2}}},
        {"transform": [{"filter": "datum.s == '0%' && datum.h == 8"}], "mark": {"type": "rule", "color": "#000000", "strokeWidth": 1}, "encoding": {"x": {"datum": 8.14}, "x2": {"datum": 8.28}, "y": {"datum": 39.65}}},
        {"transform": [{"filter": "datum.s == '0%' && datum.h == 8"}], "mark": {"type": "text", "text": "*", "fontSize": 15, "color": "#000000"}, "encoding": {"x": {"datum": 8.5}, "y": {"datum": 44.6}}}
       ]
      },
      {
       "width": 253.8, "height": 199.7,
       "data": {"name": "D2"},
       "title": {"text": "wt vs. wt (control)", "fontSize": 22, "anchor": "middle", "frame": "group", "dx": 14.5, "offset": 9},
       "resolve": {"scale": {"shape": "independent", "fill": "independent", "stroke": "independent"}},
       "encoding": {
        "x": {"field": "h", "type": "quantitative", "scale": {"domain": [0, 8.174], "nice": false, "zero": false},
              "axis": {"values": [0,2,4,6,8], "title": "[h]", "titleX": 263.5, "titleY": 16, "titleAlign": "left", "titleBaseline": "middle", "titleAngle": 0, "titleFontSize": 22, "labelFontSize": 22, "labelPadding": 2.5, "ticks": true, "tickSize": 4, "tickColor": "#a6a6a6", "domainColor": "#a6a6a6", "grid": false, "labelColor": "#333333"}},
        "y": {"field": "v", "type": "quantitative", "scale": {"domain": [40, 70], "nice": false, "zero": false},
              "axis": {"values": [40,50,60,70], "labels": false, "grid": true, "gridColor": "#a6a6a6", "domain": true, "domainColor": "#bfbfbf", "ticks": false, "title": null}}
       },
       "layer": [
        {"mark": {"type": "line", "strokeWidth": 1.5}, "encoding": {"color": {"field": "s", "type": "nominal", "scale": {"domain": ["0%","2.5%","5%"], "range": ["#000000","#ff0000","#4f86c6"]}, "legend": null}}},
        {"mark": {"type": "errorbar", "color": "#000000", "thickness": 1, "ticks": {"size": 6}}, "encoding": {"yError": {"field": "e"}}},
        {"transform": [{"filter": "datum.s == '0%'"}], "mark": {"type": "point", "shape": "square", "filled": true, "size": 40, "opacity": 1}, "encoding": {"color": {"field": "s", "type": "nominal", "scale": {"domain": ["0%","2.5%","5%"], "range": ["#000000","#ff0000","#4f86c6"]}, "legend": null}}},
        {"transform": [{"filter": "datum.s == '2.5%'"}], "mark": {"type": "point", "shape": "diamond", "filled": true, "size": 30, "opacity": 1}, "encoding": {"color": {"field": "s", "type": "nominal", "scale": {"domain": ["0%","2.5%","5%"], "range": ["#000000","#ff0000","#4f86c6"]}, "legend": null}}},
        {"transform": [{"filter": "datum.s == '5%'"}], "mark": {"type": "point", "shape": "triangle-up", "filled": true, "size": 45, "opacity": 1}, "encoding": {"color": {"field": "s", "type": "nominal", "scale": {"domain": ["0%","2.5%","5%"], "range": ["#000000","#ff0000","#4f86c6"]}, "legend": null}}},
        {"transform": [{"filter": "false"}], "mark": {"type": "point", "filled": true},
         "encoding": {
          "shape": {"field": "s", "type": "nominal", "scale": {"domain": ["0%","2.5%","5%"], "range": ["M-1,-1M1,1M-0.598,-0.504H-0.133M0.133,-0.504H0.598M-0.133,-0.637H0.133V-0.371H-0.133Z","M-1,-1M1,1M-0.598,-0.504H-0.125M0.125,-0.504H0.598M0,-0.629L0.125,-0.504L0,-0.379L-0.125,-0.504Z","M-1,-1M1,1M-0.598,-0.504H-0.15M0.15,-0.504H0.598M0,-0.68L0.167,-0.39L-0.167,-0.39Z"]},
                    "legend": {"orient": "none", "legendX": 27.3, "legendY": 13.6, "title": null, "direction": "horizontal", "symbolSize": 2304, "symbolStrokeWidth": 1.5, "symbolOpacity": 1, "labelFontSize": 20, "labelAlign": "center", "labelOffset": -24.75, "labelBaseline": "top", "labelColor": "#262626", "columnPadding": 24.6, "padding": 0}},
          "fill": {"field": "s", "type": "nominal", "scale": {"domain": ["0%","2.5%","5%"], "range": ["#000000","#ff0000","#4f86c6"]},
                    "legend": {"orient": "none", "legendX": 27.3, "legendY": 13.6, "title": null, "direction": "horizontal", "symbolSize": 2304, "symbolStrokeWidth": 1.5, "symbolOpacity": 1, "labelFontSize": 20, "labelAlign": "center", "labelOffset": -24.75, "labelBaseline": "top", "labelColor": "#262626", "columnPadding": 24.6, "padding": 0}},
          "stroke": {"field": "s", "type": "nominal", "scale": {"domain": ["0%","2.5%","5%"], "range": ["#000000","#ff0000","#4f86c6"]},
                    "legend": {"orient": "none", "legendX": 27.3, "legendY": 13.6, "title": null, "direction": "horizontal", "symbolSize": 2304, "symbolStrokeWidth": 1.5, "symbolOpacity": 1, "labelFontSize": 20, "labelAlign": "center", "labelOffset": -24.75, "labelBaseline": "top", "labelColor": "#262626", "columnPadding": 24.6, "padding": 0}}
         }}
       ]
      }
     ]
    }
   ]
  },
  {
   "spacing": 17.2,
   "bounds": "flush",
   "title": {"text": "E", "fontSize": 26, "anchor": "start", "frame": "group", "dx": -68, "offset": -28},
   "resolve": {"scale": {"color": "independent", "shape": "independent", "fill": "independent", "stroke": "independent"}},
   "hconcat": [
    {
     "width": 246.8, "height": 197.3,
     "data": {"name": "E1"},
     "title": {"text": "Plac yocM vs. wt", "fontSize": 22, "anchor": "middle", "frame": "group", "dx": -2, "offset": 7.4},
     "resolve": {"scale": {"shape": "independent", "fill": "independent", "stroke": "independent"}},
     "encoding": {
      "x": {"field": "h", "type": "quantitative", "scale": {"domain": [0, 8.1], "nice": false, "zero": false},
            "axis": {"values": [0,2,4,6,8], "title": null, "labelFontSize": 22, "labelPadding": 6.5, "ticks": true, "tickSize": 4, "tickColor": "#a6a6a6", "domainColor": "#a6a6a6", "grid": false, "labelColor": "#333333"}},
      "y": {"field": "v", "type": "quantitative", "scale": {"domain": [40, 70], "nice": false, "zero": false},
            "axis": {"values": [40,50,60,70], "labelExpr": "datum.value + '%'", "labelFont": "DejaVu Sans", "labelFontSize": 16, "labelColor": "#595959", "labelPadding": 6.6, "grid": true, "gridColor": "#a6a6a6", "domain": false, "ticks": false, "title": "% ratio cells x/y", "titleX": -61.2, "titleY": 94.8, "titleAngle": -90, "titleAlign": "center", "titleBaseline": "middle", "titleFontSize": 20}}
     },
     "layer": [
      {"mark": {"type": "line", "strokeWidth": 1.5}, "encoding": {"color": {"field": "s", "type": "nominal", "scale": {"domain": ["0%","2.5%","5%"], "range": ["#000000","#ff0000","#4f86c6"]}, "legend": null}}},
      {"mark": {"type": "errorbar", "color": "#000000", "thickness": 1, "ticks": {"size": 6}}, "encoding": {"yError": {"field": "e"}}},
      {"transform": [{"filter": "datum.s == '0%'"}], "mark": {"type": "point", "shape": "square", "filled": true, "size": 40, "opacity": 1}, "encoding": {"color": {"field": "s", "type": "nominal", "scale": {"domain": ["0%","2.5%","5%"], "range": ["#000000","#ff0000","#4f86c6"]}, "legend": null}}},
      {"transform": [{"filter": "datum.s == '2.5%'"}], "mark": {"type": "point", "shape": "diamond", "filled": true, "size": 30, "opacity": 1}, "encoding": {"color": {"field": "s", "type": "nominal", "scale": {"domain": ["0%","2.5%","5%"], "range": ["#000000","#ff0000","#4f86c6"]}, "legend": null}}},
      {"transform": [{"filter": "datum.s == '5%'"}], "mark": {"type": "point", "shape": "triangle-up", "filled": true, "size": 45, "opacity": 1}, "encoding": {"color": {"field": "s", "type": "nominal", "scale": {"domain": ["0%","2.5%","5%"], "range": ["#000000","#ff0000","#4f86c6"]}, "legend": null}}},
      {"transform": [{"filter": "false"}], "mark": {"type": "point", "filled": true},
       "encoding": {
        "shape": {"field": "s", "type": "nominal", "scale": {"domain": ["0%","2.5%","5%"], "range": ["M-1,-1M1,1M-0.598,-0.504H-0.133M0.133,-0.504H0.598M-0.133,-0.637H0.133V-0.371H-0.133Z","M-1,-1M1,1M-0.598,-0.504H-0.125M0.125,-0.504H0.598M0,-0.629L0.125,-0.504L0,-0.379L-0.125,-0.504Z","M-1,-1M1,1M-0.598,-0.504H-0.15M0.15,-0.504H0.598M0,-0.68L0.167,-0.39L-0.167,-0.39Z"]},
                  "legend": {"orient": "none", "legendX": 24.1, "legendY": 6.4, "title": null, "direction": "horizontal", "symbolSize": 2304, "symbolStrokeWidth": 1.5, "symbolOpacity": 1, "labelFontSize": 20, "labelAlign": "center", "labelOffset": -24.75, "labelBaseline": "top", "labelColor": "#262626", "columnPadding": 23.5, "padding": 0}},
        "fill": {"field": "s", "type": "nominal", "scale": {"domain": ["0%","2.5%","5%"], "range": ["#000000","#ff0000","#4f86c6"]},
                  "legend": {"orient": "none", "legendX": 24.1, "legendY": 6.4, "title": null, "direction": "horizontal", "symbolSize": 2304, "symbolStrokeWidth": 1.5, "symbolOpacity": 1, "labelFontSize": 20, "labelAlign": "center", "labelOffset": -24.75, "labelBaseline": "top", "labelColor": "#262626", "columnPadding": 23.5, "padding": 0}},
        "stroke": {"field": "s", "type": "nominal", "scale": {"domain": ["0%","2.5%","5%"], "range": ["#000000","#ff0000","#4f86c6"]},
                  "legend": {"orient": "none", "legendX": 24.1, "legendY": 6.4, "title": null, "direction": "horizontal", "symbolSize": 2304, "symbolStrokeWidth": 1.5, "symbolOpacity": 1, "labelFontSize": 20, "labelAlign": "center", "labelOffset": -24.75, "labelBaseline": "top", "labelColor": "#262626", "columnPadding": 23.5, "padding": 0}}
       }},
      {"transform": [{"filter": "datum.s == '0%' && datum.h == 8"}], "mark": {"type": "text", "text": "*", "fontSize": 15, "color": "#000000"}, "encoding": {"x": {"datum": 5.24}, "y": {"datum": 63.1}}}
     ]
    },
    {
     "width": 247.6, "height": 197.3,
     "data": {"name": "E2"},
     "title": {"text": "Plac mcherry vs. wt", "fontSize": 22, "anchor": "middle", "frame": "group", "dx": 5.5, "offset": 15.4},
     "resolve": {"scale": {"shape": "independent", "fill": "independent", "stroke": "independent"}},
     "encoding": {
      "x": {"field": "h", "type": "quantitative", "scale": {"domain": [0, 8.09], "nice": false, "zero": false},
            "axis": {"values": [0,2,4,6,8], "title": "[h]", "titleX": 249.5, "titleY": 18, "titleAlign": "left", "titleBaseline": "middle", "titleAngle": 0, "titleFontSize": 22, "labelFontSize": 22, "labelPadding": 6.5, "ticks": true, "tickSize": 4, "tickColor": "#a6a6a6", "domainColor": "#a6a6a6", "grid": false, "labelColor": "#333333"}},
      "y": {"field": "v", "type": "quantitative", "scale": {"domain": [40, 70], "nice": false, "zero": false},
            "axis": {"values": [40,50,60,70], "labels": false, "grid": true, "gridColor": "#a6a6a6", "domain": true, "domainColor": "#bfbfbf", "ticks": false, "title": null}}
     },
     "layer": [
      {"mark": {"type": "line", "strokeWidth": 1.5}, "encoding": {"color": {"field": "s", "type": "nominal", "scale": {"domain": ["0%","2.5%","5%"], "range": ["#000000","#ff0000","#4f86c6"]}, "legend": null}}},
      {"mark": {"type": "errorbar", "color": "#000000", "thickness": 1, "ticks": {"size": 6}}, "encoding": {"yError": {"field": "e"}}},
      {"transform": [{"filter": "datum.s == '0%'"}], "mark": {"type": "point", "shape": "square", "filled": true, "size": 40, "opacity": 1}, "encoding": {"color": {"field": "s", "type": "nominal", "scale": {"domain": ["0%","2.5%","5%"], "range": ["#000000","#ff0000","#4f86c6"]}, "legend": null}}},
      {"transform": [{"filter": "datum.s == '2.5%'"}], "mark": {"type": "point", "shape": "diamond", "filled": true, "size": 30, "opacity": 1}, "encoding": {"color": {"field": "s", "type": "nominal", "scale": {"domain": ["0%","2.5%","5%"], "range": ["#000000","#ff0000","#4f86c6"]}, "legend": null}}},
      {"transform": [{"filter": "datum.s == '5%'"}], "mark": {"type": "point", "shape": "triangle-up", "filled": true, "size": 45, "opacity": 1}, "encoding": {"color": {"field": "s", "type": "nominal", "scale": {"domain": ["0%","2.5%","5%"], "range": ["#000000","#ff0000","#4f86c6"]}, "legend": null}}},
      {"transform": [{"filter": "false"}], "mark": {"type": "point", "filled": true},
       "encoding": {
        "shape": {"field": "s", "type": "nominal", "scale": {"domain": ["0%","2.5%","5%"], "range": ["M-1,-1M1,1M-0.598,-0.504H-0.133M0.133,-0.504H0.598M-0.133,-0.637H0.133V-0.371H-0.133Z","M-1,-1M1,1M-0.598,-0.504H-0.125M0.125,-0.504H0.598M0,-0.629L0.125,-0.504L0,-0.379L-0.125,-0.504Z","M-1,-1M1,1M-0.598,-0.504H-0.15M0.15,-0.504H0.598M0,-0.68L0.167,-0.39L-0.167,-0.39Z"]},
                  "legend": {"orient": "none", "legendX": 30, "legendY": 14.6, "title": null, "direction": "horizontal", "symbolSize": 2304, "symbolStrokeWidth": 1.5, "symbolOpacity": 1, "labelFontSize": 20, "labelAlign": "center", "labelOffset": -24.75, "labelBaseline": "top", "labelColor": "#262626", "columnPadding": 23.4, "padding": 0}},
        "fill": {"field": "s", "type": "nominal", "scale": {"domain": ["0%","2.5%","5%"], "range": ["#000000","#ff0000","#4f86c6"]},
                  "legend": {"orient": "none", "legendX": 30, "legendY": 14.6, "title": null, "direction": "horizontal", "symbolSize": 2304, "symbolStrokeWidth": 1.5, "symbolOpacity": 1, "labelFontSize": 20, "labelAlign": "center", "labelOffset": -24.75, "labelBaseline": "top", "labelColor": "#262626", "columnPadding": 23.4, "padding": 0}},
        "stroke": {"field": "s", "type": "nominal", "scale": {"domain": ["0%","2.5%","5%"], "range": ["#000000","#ff0000","#4f86c6"]},
                  "legend": {"orient": "none", "legendX": 30, "legendY": 14.6, "title": null, "direction": "horizontal", "symbolSize": 2304, "symbolStrokeWidth": 1.5, "symbolOpacity": 1, "labelFontSize": 20, "labelAlign": "center", "labelOffset": -24.75, "labelBaseline": "top", "labelColor": "#262626", "columnPadding": 23.4, "padding": 0}}
       }}
     ]
    }
   ]
  }
 ]
}
]
}
